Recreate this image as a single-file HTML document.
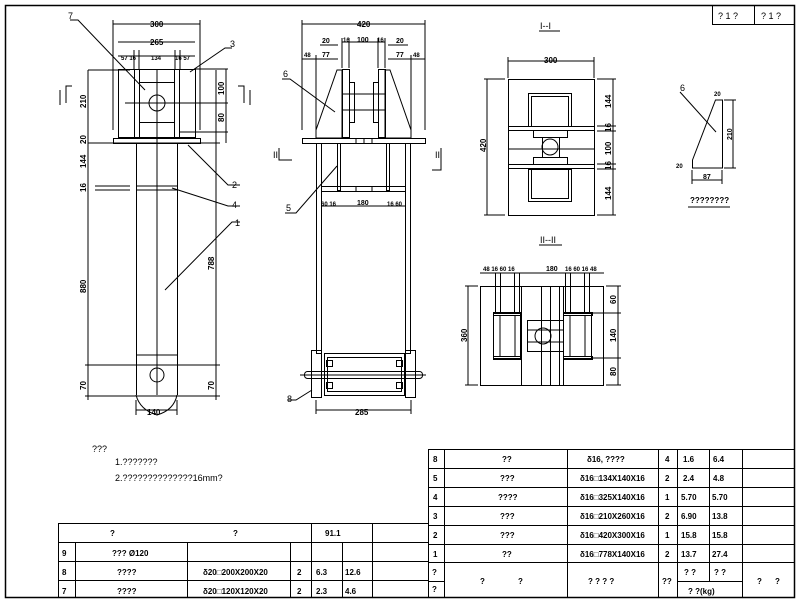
<!DOCTYPE html>
<html><head><meta charset="utf-8"><style>
html,body{margin:0;padding:0;background:#fff;}
svg{display:block;}
text{font-family:"Liberation Sans",sans-serif;font-size:8px;font-weight:bold;fill:#000;}
.t{font-size:9px;font-weight:normal;}
</style></head><body>
<svg width="800" height="600" viewBox="0 0 800 600" xmlns="http://www.w3.org/2000/svg" stroke="#000" stroke-width="1" fill="none">
<!-- border -->
<rect x="5.5" y="5.5" width="789" height="592" stroke-width="1.5"/>
<rect x="712.5" y="5.5" width="82" height="19"/>
<line x1="754.5" y1="5" x2="754.5" y2="25"/>
<g stroke="none"><text x="718" y="19" class="t">? 1 ?</text><text x="761" y="19" class="t">? 1 ?</text></g>

<!-- VIEW 1 -->
<g>
<line x1="113" y1="24" x2="200" y2="24"/><line x1="113" y1="20" x2="113" y2="130"/><line x1="200" y1="20" x2="200" y2="130"/>
<line x1="118" y1="42" x2="195" y2="42"/><line x1="118" y1="56" x2="195" y2="56"/>
<line x1="134" y1="50" x2="134" y2="70"/><line x1="139" y1="50" x2="139" y2="70"/><line x1="175" y1="50" x2="175" y2="70"/><line x1="180" y1="50" x2="180" y2="70"/>
<rect x="118.5" y="69.5" width="77" height="68"/>
<line x1="134.5" y1="70" x2="134.5" y2="138"/><line x1="139.5" y1="70" x2="139.5" y2="138"/>
<line x1="174.5" y1="70" x2="174.5" y2="138"/><line x1="179.5" y1="70" x2="179.5" y2="138"/>
<rect x="139.5" y="82.5" width="35" height="40"/>
<circle cx="157" cy="103" r="8"/>
<line x1="125" y1="103" x2="195" y2="103"/><line x1="157" y1="70" x2="157" y2="395"/>
<rect x="113.5" y="138.5" width="87" height="5"/>
<line x1="136.5" y1="143" x2="136.5" y2="395"/><line x1="177.5" y1="143" x2="177.5" y2="395"/>
<line x1="95" y1="186" x2="130" y2="186"/><line x1="95" y1="190" x2="130" y2="190"/>
<line x1="136" y1="186" x2="177" y2="186"/><line x1="136" y1="190" x2="177" y2="190"/>
<line x1="136" y1="355" x2="177" y2="355"/>
<circle cx="157" cy="375" r="7"/>
<path d="M136 395 Q140 410 157 415 Q174 410 177 395"/>
<line x1="88" y1="70" x2="130" y2="70"/><line x1="88" y1="143" x2="220" y2="143"/>
<line x1="88" y1="70" x2="88" y2="400"/><line x1="216" y1="70" x2="216" y2="400"/>
<line x1="85" y1="365" x2="220" y2="365"/><line x1="85" y1="396" x2="220" y2="396"/>
<line x1="195" y1="69" x2="228" y2="69"/><line x1="180" y1="103" x2="228" y2="103"/><line x1="180" y1="132" x2="228" y2="132"/><line x1="226" y1="69" x2="226" y2="143"/>
<line x1="136" y1="410" x2="177" y2="410"/><line x1="136" y1="400" x2="136" y2="415"/><line x1="177" y1="400" x2="177" y2="415"/>
<polyline points="70,20 78,20 145,90"/><polyline points="232,48 225,48 190,72"/>
<polyline points="188,145 228,185 240,185"/><polyline points="172,188 228,206 240,206"/>
<polyline points="240,222 232,222 165,290"/>
<polyline points="66,103 66,86 72,86"/><line x1="60" y1="90" x2="60" y2="105"/>
<polyline points="244,103 244,86 238,86"/><line x1="250" y1="90" x2="250" y2="105"/>
</g>
<g stroke="none">
<text x="150" y="27">300</text><text x="150" y="45">265</text>
<text x="121" y="60" style="font-size:6px">57 16</text><text x="151" y="60" style="font-size:6px">134</text><text x="175" y="60" style="font-size:6px">16 57</text>
<text x="68" y="19" class="t">7</text><text x="230" y="47" class="t">3</text><text x="232" y="188" class="t">2</text><text x="232" y="208" class="t">4</text><text x="235" y="226" class="t">1</text>
<text x="147" y="415">140</text>
<g style="font-size:7px">
<text transform="translate(86,108) rotate(-90)">210</text><text transform="translate(86,144) rotate(-90)">20</text>
<text transform="translate(86,168) rotate(-90)">144</text><text transform="translate(86,192) rotate(-90)">16</text>
<text transform="translate(86,293) rotate(-90)">880</text><text transform="translate(86,390) rotate(-90)">70</text>
<text transform="translate(224,95) rotate(-90)">100</text><text transform="translate(224,122) rotate(-90)">80</text>
<text transform="translate(214,270) rotate(-90)">788</text><text transform="translate(214,390) rotate(-90)">70</text>
</g>
</g>

<!-- VIEW 2 -->
<g>
<line x1="302" y1="24" x2="425" y2="24"/><line x1="302" y1="20" x2="302" y2="130"/><line x1="425" y1="20" x2="425" y2="130"/>
<line x1="302" y1="59" x2="338" y2="59"/><line x1="388" y1="59" x2="425" y2="59"/><line x1="316" y1="55" x2="316" y2="130"/><line x1="411" y1="55" x2="411" y2="130"/>
<line x1="320" y1="45" x2="338" y2="45"/><line x1="388" y1="45" x2="408" y2="45"/>
<line x1="342" y1="42" x2="385" y2="42"/><line x1="342" y1="38" x2="342" y2="68"/><line x1="349" y1="38" x2="349" y2="68"/><line x1="378" y1="38" x2="378" y2="68"/><line x1="385" y1="38" x2="385" y2="68"/>
<polygon points="337,70 342,70 342,138 316,138 316,130"/>
<polygon points="390,70 385,70 385,138 411,138 411,130"/>
<rect x="342.5" y="69.5" width="7" height="68"/><rect x="378.5" y="69.5" width="7" height="68"/>
<rect x="349.5" y="82.5" width="5" height="40"/><rect x="373.5" y="82.5" width="5" height="40"/>
<line x1="342" y1="94" x2="385" y2="94"/><line x1="342" y1="110" x2="385" y2="110"/>
<rect x="302.5" y="138.5" width="123" height="5"/>
<line x1="356" y1="138" x2="356" y2="143"/><line x1="364" y1="138" x2="364" y2="143"/><line x1="372" y1="138" x2="372" y2="143"/>
<rect x="316.5" y="143.5" width="5" height="210"/><rect x="405.5" y="143.5" width="5" height="210"/>
<rect x="337.5" y="143.5" width="3" height="47"/><rect x="386.5" y="143.5" width="3" height="47"/>
<rect x="321.5" y="186.5" width="84" height="5"/>
<line x1="356" y1="186" x2="356" y2="191"/><line x1="372" y1="186" x2="372" y2="191"/>
<line x1="321" y1="206" x2="406" y2="206"/>
<rect x="311.5" y="350.5" width="10" height="47"/><rect x="405.5" y="350.5" width="10" height="47"/>
<rect x="324.5" y="353.5" width="80" height="42"/><rect x="327.5" y="357.5" width="74" height="34"/>
<rect x="326.5" y="360.5" width="6" height="6"/><rect x="396.5" y="360.5" width="6" height="6"/>
<rect x="326.5" y="382.5" width="6" height="6"/><rect x="396.5" y="382.5" width="6" height="6"/>
<rect x="304.5" y="371.5" width="118" height="7" rx="3"/>
<line x1="300" y1="375" x2="426" y2="375"/>
<line x1="316" y1="410" x2="411" y2="410"/><line x1="316" y1="400" x2="316" y2="414"/><line x1="411" y1="400" x2="411" y2="414"/>
<polyline points="282,79 290,79 335,112"/><polyline points="285,213 296,213 337,166"/><polyline points="288,400 296,400 312,390"/>
<polyline points="279,148 279,160 292,160"/><polyline points="441,148 441,170 432,170"/>
</g>
<g stroke="none">
<text x="357" y="27">420</text>
<text x="322" y="43" style="font-size:7px">20</text><text x="343" y="42" style="font-size:6px">16</text><text x="357" y="42" style="font-size:7px">100</text><text x="377" y="42" style="font-size:6px">16</text><text x="396" y="43" style="font-size:7px">20</text>
<text x="304" y="57" style="font-size:6px">48</text><text x="322" y="57" style="font-size:7px">77</text><text x="396" y="57" style="font-size:7px">77</text><text x="413" y="57" style="font-size:6px">48</text>
<text x="321" y="206" style="font-size:6px">60 16</text><text x="357" y="205" style="font-size:7px">180</text><text x="387" y="206" style="font-size:6px">16 60</text>
<text x="283" y="77" class="t">6</text><text x="286" y="211" class="t">5</text><text x="287" y="402" class="t">8</text>
<text x="273" y="158" class="t">II</text><text x="435" y="158" class="t">II</text>
<text x="355" y="415">285</text>
</g>

<!-- SECTION I-I -->
<g>
<line x1="539" y1="31" x2="560" y2="31"/>
<line x1="508" y1="61" x2="594" y2="61"/><line x1="508" y1="57" x2="508" y2="78"/><line x1="594" y1="57" x2="594" y2="78"/>
<rect x="508.5" y="79.5" width="86" height="136"/>
<rect x="528.5" y="93.5" width="43" height="33"/><rect x="531.5" y="96.5" width="37" height="30"/>
<rect x="528.5" y="169.5" width="43" height="32"/><rect x="531.5" y="169.5" width="37" height="29"/>
<rect x="508.5" y="126.5" width="86" height="4"/><rect x="508.5" y="164.5" width="86" height="4"/>
<rect x="533.5" y="130.5" width="34" height="7"/><rect x="533.5" y="157.5" width="34" height="7"/>
<rect x="542.5" y="137.5" width="17" height="20"/>
<circle cx="550" cy="147" r="8"/>
<line x1="508" y1="149" x2="594" y2="149"/>
<line x1="487" y1="79" x2="487" y2="215"/><line x1="484" y1="79" x2="505" y2="79"/><line x1="484" y1="215" x2="505" y2="215"/>
<line x1="613" y1="79" x2="613" y2="215"/><line x1="597" y1="79" x2="616" y2="79"/><line x1="597" y1="126" x2="616" y2="126"/><line x1="597" y1="131" x2="616" y2="131"/><line x1="597" y1="164" x2="616" y2="164"/><line x1="597" y1="169" x2="616" y2="169"/><line x1="597" y1="215" x2="616" y2="215"/>
</g>
<g stroke="none">
<text x="540" y="29" class="t">I--I</text><text x="544" y="63">300</text>
<g style="font-size:7px">
<text transform="translate(486,152) rotate(-90)">420</text>
<text transform="translate(611,108) rotate(-90)">144</text><text transform="translate(611,132) rotate(-90)">16</text>
<text transform="translate(611,155) rotate(-90)">100</text><text transform="translate(611,170) rotate(-90)">16</text>
<text transform="translate(611,200) rotate(-90)">144</text>
</g>
</g>

<!-- SECTION II-II -->
<g>
<line x1="539" y1="245" x2="562" y2="245"/>
<line x1="480" y1="273" x2="604" y2="273"/>
<rect x="480.5" y="286.5" width="123" height="99"/>
<line x1="495.5" y1="273" x2="495.5" y2="313"/><line x1="500.5" y1="273" x2="500.5" y2="313"/><line x1="514.5" y1="273" x2="514.5" y2="313"/><line x1="519.5" y1="273" x2="519.5" y2="313"/>
<line x1="565.5" y1="273" x2="565.5" y2="313"/><line x1="570.5" y1="273" x2="570.5" y2="313"/><line x1="584.5" y1="273" x2="584.5" y2="313"/><line x1="589.5" y1="273" x2="589.5" y2="313"/>
<rect x="493.5" y="313.5" width="27" height="45"/><rect x="563.5" y="313.5" width="28" height="45"/>
<rect x="493.5" y="312.5" width="28" height="3"/><rect x="563.5" y="312.5" width="29" height="3"/>
<rect x="493.5" y="356.5" width="28" height="3"/><rect x="563.5" y="356.5" width="29" height="3"/>
<line x1="500" y1="315" x2="500" y2="357"/><line x1="515" y1="315" x2="515" y2="357"/><line x1="570" y1="315" x2="570" y2="357"/><line x1="585" y1="315" x2="585" y2="357"/>
<line x1="521.5" y1="286" x2="521.5" y2="385"/><line x1="541.5" y1="286" x2="541.5" y2="385"/><line x1="559.5" y1="286" x2="559.5" y2="385"/><line x1="563.5" y1="286" x2="563.5" y2="385"/><line x1="550.5" y1="286" x2="550.5" y2="385"/>
<rect x="527.5" y="320.5" width="36" height="31"/>
<line x1="527" y1="330" x2="563" y2="330"/><line x1="527" y1="342" x2="563" y2="342"/>
<circle cx="543" cy="336" r="8"/>
<line x1="468" y1="286" x2="468" y2="385"/><line x1="465" y1="286" x2="478" y2="286"/><line x1="465" y1="385" x2="478" y2="385"/>
<line x1="618" y1="286" x2="618" y2="385"/><line x1="606" y1="286" x2="621" y2="286"/><line x1="593" y1="313" x2="621" y2="313"/><line x1="593" y1="358" x2="621" y2="358"/><line x1="606" y1="385" x2="621" y2="385"/>
</g>
<g stroke="none">
<text x="540" y="243" class="t">II--II</text>
<text x="483" y="271" style="font-size:6px">48 16 60 16</text><text x="546" y="271" style="font-size:7px">180</text><text x="565" y="271" style="font-size:6px">16 60 16 48</text>
<g style="font-size:7px">
<text transform="translate(467,342) rotate(-90)">360</text>
<text transform="translate(616,304) rotate(-90)">60</text><text transform="translate(616,342) rotate(-90)">140</text><text transform="translate(616,376) rotate(-90)">80</text>
</g>
</g>

<!-- PART 6 -->
<g>
<polygon points="692.5,160 715.5,100 722.5,100 722.5,168 692.5,168"/>
<line x1="680" y1="92" x2="716" y2="132"/>
<line x1="733" y1="100" x2="733" y2="168"/><line x1="724" y1="100" x2="736" y2="100"/><line x1="724" y1="168" x2="736" y2="168"/>
<line x1="692" y1="180" x2="722" y2="180"/><line x1="692" y1="170" x2="692" y2="184"/><line x1="722" y1="170" x2="722" y2="184"/>
<line x1="688" y1="207" x2="730" y2="207"/>
</g>
<g stroke="none">
<text x="680" y="91" class="t">6</text><text x="714" y="96" style="font-size:6px">20</text>
<text transform="translate(732,140) rotate(-90)" style="font-size:7px">210</text>
<text x="676" y="168" style="font-size:6px">20</text><text x="703" y="179" style="font-size:7px">87</text>
<text x="690" y="203" style="font-size:8px">????????</text>
</g>

<!-- notes -->
<g stroke="none">
<text x="92" y="452" class="t">???</text>
<text x="115" y="465" class="t">1.???????</text>
<text x="115" y="481" class="t">2.??????????????16mm?</text>
</g>

<!-- right table -->
<g>
<rect x="428.5" y="449.5" width="366" height="148"/>
<line x1="428" y1="468.5" x2="795" y2="468.5"/><line x1="428" y1="487.5" x2="795" y2="487.5"/><line x1="428" y1="506.5" x2="795" y2="506.5"/><line x1="428" y1="525.5" x2="795" y2="525.5"/><line x1="428" y1="544.5" x2="795" y2="544.5"/><line x1="428" y1="562.5" x2="795" y2="562.5"/>
<line x1="677" y1="581.5" x2="742" y2="581.5"/><line x1="428" y1="581.5" x2="444" y2="581.5"/>
<line x1="444.5" y1="449" x2="444.5" y2="598"/><line x1="567.5" y1="449" x2="567.5" y2="598"/><line x1="658.5" y1="449" x2="658.5" y2="598"/>
<line x1="677.5" y1="449" x2="677.5" y2="598"/><line x1="709.5" y1="449" x2="709.5" y2="581"/><line x1="742.5" y1="449" x2="742.5" y2="598"/>
</g>
<g stroke="none" style="font-size:8px">
<text x="433" y="462">8</text><text x="502" y="462">??</text><text x="587" y="462">δ16, ????</text><text x="665" y="462">4</text><text x="683" y="462">1.6</text><text x="713" y="462">6.4</text>
<text x="433" y="481">5</text><text x="500" y="481">???</text><text x="580" y="481">δ16□134X140X16</text><text x="665" y="481">2</text><text x="683" y="481">2.4</text><text x="713" y="481">4.8</text>
<text x="433" y="500">4</text><text x="498" y="500">????</text><text x="580" y="500">δ16□325X140X16</text><text x="665" y="500">1</text><text x="681" y="500">5.70</text><text x="712" y="500">5.70</text>
<text x="433" y="519">3</text><text x="500" y="519">???</text><text x="580" y="519">δ16□210X260X16</text><text x="665" y="519">2</text><text x="681" y="519">6.90</text><text x="712" y="519">13.8</text>
<text x="433" y="538">2</text><text x="500" y="538">???</text><text x="580" y="538">δ16□420X300X16</text><text x="665" y="538">1</text><text x="681" y="538">15.8</text><text x="712" y="538">15.8</text>
<text x="433" y="557">1</text><text x="502" y="557">??</text><text x="580" y="557">δ16□778X140X16</text><text x="665" y="557">2</text><text x="681" y="557">13.7</text><text x="712" y="557">27.4</text>
<text x="432" y="575">?</text><text x="432" y="592">?</text>
<text x="480" y="584">?</text><text x="518" y="584">?</text><text x="588" y="584">? ? ? ?</text><text x="662" y="584">??</text>
<text x="684" y="575">? ?</text><text x="714" y="575">? ?</text><text x="688" y="594">? ?(kg)</text>
<text x="757" y="584">?</text><text x="775" y="584">?</text>
</g>

<!-- left table -->
<g>
<rect x="58.5" y="523.5" width="370" height="74"/>
<line x1="58" y1="542.5" x2="428" y2="542.5"/><line x1="58" y1="561.5" x2="428" y2="561.5"/><line x1="58" y1="580.5" x2="428" y2="580.5"/>
<line x1="75.5" y1="542" x2="75.5" y2="598"/><line x1="187.5" y1="542" x2="187.5" y2="598"/>
<line x1="290.5" y1="542" x2="290.5" y2="598"/><line x1="311.5" y1="523" x2="311.5" y2="598"/>
<line x1="342.5" y1="542" x2="342.5" y2="598"/><line x1="372.5" y1="523" x2="372.5" y2="598"/>
</g>
<g stroke="none" style="font-size:8px">
<text x="110" y="536">?</text><text x="233" y="536">?</text><text x="325" y="536">91.1</text>
<text x="62" y="556">9</text><text x="112" y="556">???  Ø120</text>
<text x="62" y="575">8</text><text x="117" y="575">????</text><text x="203" y="575">δ20□200X200X20</text><text x="297" y="575">2</text><text x="316" y="575">6.3</text><text x="345" y="575">12.6</text>
<text x="62" y="594">7</text><text x="117" y="594">????</text><text x="203" y="594">δ20□120X120X20</text><text x="297" y="594">2</text><text x="316" y="594">2.3</text><text x="345" y="594">4.6</text>
</g>
</svg>
</body></html>
